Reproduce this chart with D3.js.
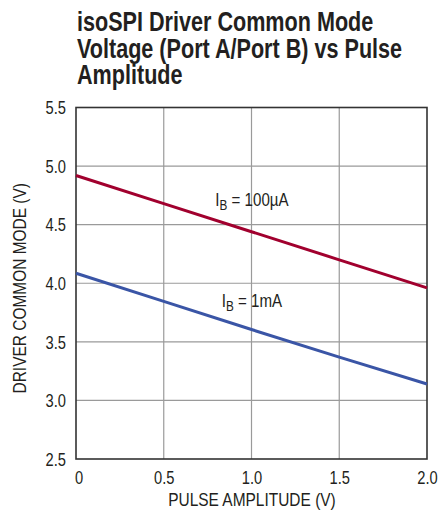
<!DOCTYPE html>
<html><head><meta charset="utf-8">
<script src="https://cdn.jsdelivr.net/npm/d3@7"></script>
<style>
body{margin:0;background:#fff;}
text{font-family:"Liberation Sans",Arial,sans-serif;}
</style></head><body>
<svg id="c" width="439" height="517"></svg>
<script>
const titleLines = ["isoSPI Driver Common Mode", "Voltage (Port A/Port B) vs Pulse", "Amplitude"];
const xValues = [0, 0.5, 1.0, 1.5, 2.0];
const series100uA = [4.92, 4.68, 4.44, 4.20, 3.96];
const series1mA = [4.085, 3.845, 3.605, 3.37, 3.14];
const xTicks = [0, 0.5, 1.0, 1.5, 2.0];
const yTicks = [2.5, 3.0, 3.5, 4.0, 4.5, 5.0, 5.5];
const xLabel = "PULSE AMPLITUDE (V)";
const yLabel = "DRIVER COMMON MODE (V)";

const svg = d3.select("#c");
const L = 76, R = 427, T = 107.5, B = 459;
const x = d3.scaleLinear().domain([0, 2]).range([L, R]);
const y = d3.scaleLinear().domain([2.5, 5.5]).range([B, T]);
const SX = 0.84;
function squeeze(sel, ax, sx) {
  sel.attr("transform", `translate(${ax},0) scale(${sx},1) translate(${-ax},0)`);
}

// title
const tt = svg.append("text").attr("x", 77).attr("y", 31.5)
  .style("font-weight", "bold").style("font-size", "27px").attr("fill", "#231f20");
titleLines.forEach((s, i) => tt.append("tspan").attr("x", 77).attr("dy", i ? 26.5 : 0).text(s));
squeeze(tt, 77, 0.80);

// grid
const g = svg.append("g");
g.selectAll(".gx").data(xTicks.slice(1, -1)).join("line")
  .attr("x1", d => x(d)).attr("x2", d => x(d)).attr("y1", T).attr("y2", B)
  .attr("stroke", "#9a9a9a").attr("stroke-width", 1.2);
g.selectAll(".gy").data(yTicks.slice(1, -1)).join("line")
  .attr("x1", L).attr("x2", R).attr("y1", d => y(d)).attr("y2", d => y(d))
  .attr("stroke", "#9a9a9a").attr("stroke-width", 1.2);

// axes (labels only)
const xa = svg.append("g").attr("transform", `translate(0,${B})`)
  .call(d3.axisBottom(x).tickValues(xTicks).tickSize(0).tickPadding(8)
    .tickFormat(d => d === 0 ? "0" : d3.format(".1f")(d)));
const ya = svg.append("g").attr("transform", `translate(${L},0)`)
  .call(d3.axisLeft(y).tickValues(yTicks).tickSize(0).tickPadding(12).tickFormat(d3.format(".1f")));
[xa, ya].forEach(a => {
  a.select(".domain").remove();
  a.selectAll("text").attr("font-family", null).attr("font-size", null)
    .style("font-size", "17.5px").attr("fill", "#231f20");
});
xa.selectAll("text").attr("dy", "0.95em").attr("transform", `scale(${SX},1)`);
xa.selectAll(".tick").filter(d => d === 0).select("text").attr("x", 3);
ya.selectAll("text").attr("dy", "0.36em").attr("transform", `scale(${SX},1)`);

// frame
svg.append("rect").attr("x", L).attr("y", T).attr("width", R - L).attr("height", B - T)
  .attr("fill", "none").attr("stroke", "#333").attr("stroke-width", 1.6);

// lines
const line = d3.line().x((d, i) => x(xValues[i])).y(d => y(d));
svg.append("path").datum(series100uA).attr("d", line).attr("fill", "none")
  .attr("stroke", "#a1002e").attr("stroke-width", 3);
svg.append("path").datum(series1mA).attr("d", line).attr("fill", "none")
  .attr("stroke", "#3a55a6").attr("stroke-width", 3);

// series labels
function ib(xp, yp, rest) {
  const t = svg.append("text").attr("x", xp).attr("y", yp).attr("text-anchor", "middle")
    .style("font-size", "18px").attr("fill", "#231f20");
  t.append("tspan").text("I");
  t.append("tspan").attr("dy", 4).style("font-size", "14px").text("B");
  t.append("tspan").attr("dy", -4).text(" = " + rest);
  squeeze(t, xp, SX);
}
ib(252, 206, "100µA");
ib(252, 307, "1mA");

// axis titles
const xt = svg.append("text").attr("x", 252).attr("y", 506).attr("text-anchor", "middle")
  .style("font-size", "18px").attr("fill", "#231f20").text(xLabel);
squeeze(xt, 252, 0.86);
svg.append("g").attr("transform", `translate(26,${(T + B) / 2 + 5}) rotate(-90)`)
  .append("text").attr("text-anchor", "middle").attr("transform", `scale(0.86,1)`)
  .style("font-size", "18px").attr("fill", "#231f20").text(yLabel);
</script></body></html>
